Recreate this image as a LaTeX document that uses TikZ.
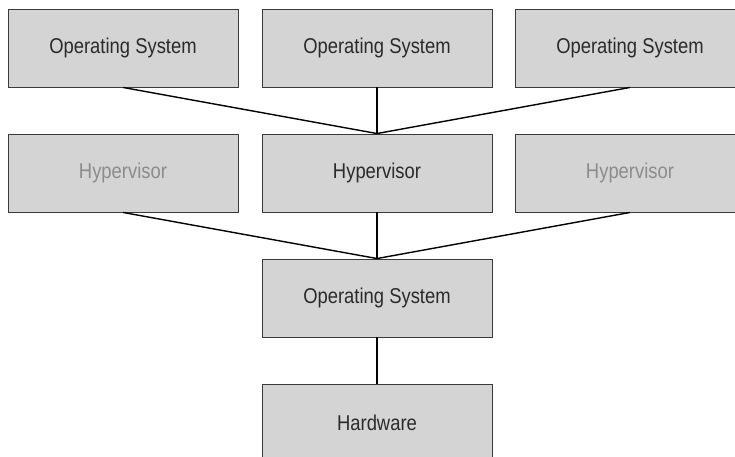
\documentclass[tikz,border=0pt]{standalone}
\usepackage{fontspec}
\setmainfont[FakeStretch=0.86]{Liberation Sans}
\usepackage{tikz}
\usetikzlibrary{calc}
\usepackage{xcolor}
\definecolor{BoxFill}{HTML}{D4D4D4}
\definecolor{BoxLine}{HTML}{3A3A3A}
\definecolor{FadedText}{HTML}{8C8C8C}
\definecolor{MainText}{HTML}{2A2A2A}

\tikzset{
  layerbox/.style={draw=BoxLine, fill=BoxFill, line width=0.9bp, minimum width=230bp, minimum height=78bp, inner sep=0pt, font=\fontsize{21.5}{24}\selectfont, text=MainText},
  fadedbox/.style={layerbox, text=FadedText},
  link/.style={black, line width=1.4bp}
}

\begin{document}
\begin{tikzpicture}[x=1bp, y=-1bp]
          \useasboundingbox (0,0) rectangle (735,457);
          % guests
          \node[layerbox] (guestA) at (123,48) {Operating System};
          \node[layerbox] (guestB) at (377,48) {Operating System};
          \node[layerbox] (guestC) at (630,48) {Operating System};
          % hypervisors
          \node[fadedbox] (hvA) at (123,173) {Hypervisor};
          \node[layerbox] (hvB) at (377,173) {Hypervisor};
          \node[fadedbox] (hvC) at (630,173) {Hypervisor};
          % host
          \node[layerbox] (host) at (377,298) {Operating System};
          \node[layerbox] (hw) at (377,423) {Hardware};
          \foreach \g in {guestA,guestB,guestC}{
            \draw[link] (\g.south) -- (hvB.north);
          }
          \foreach \h in {hvA,hvB,hvC}{
            \draw[link] (\h.south) -- (host.north);
          }
          \draw[link] (host.south) -- (hw.north);
        \end{tikzpicture}
\end{document}
